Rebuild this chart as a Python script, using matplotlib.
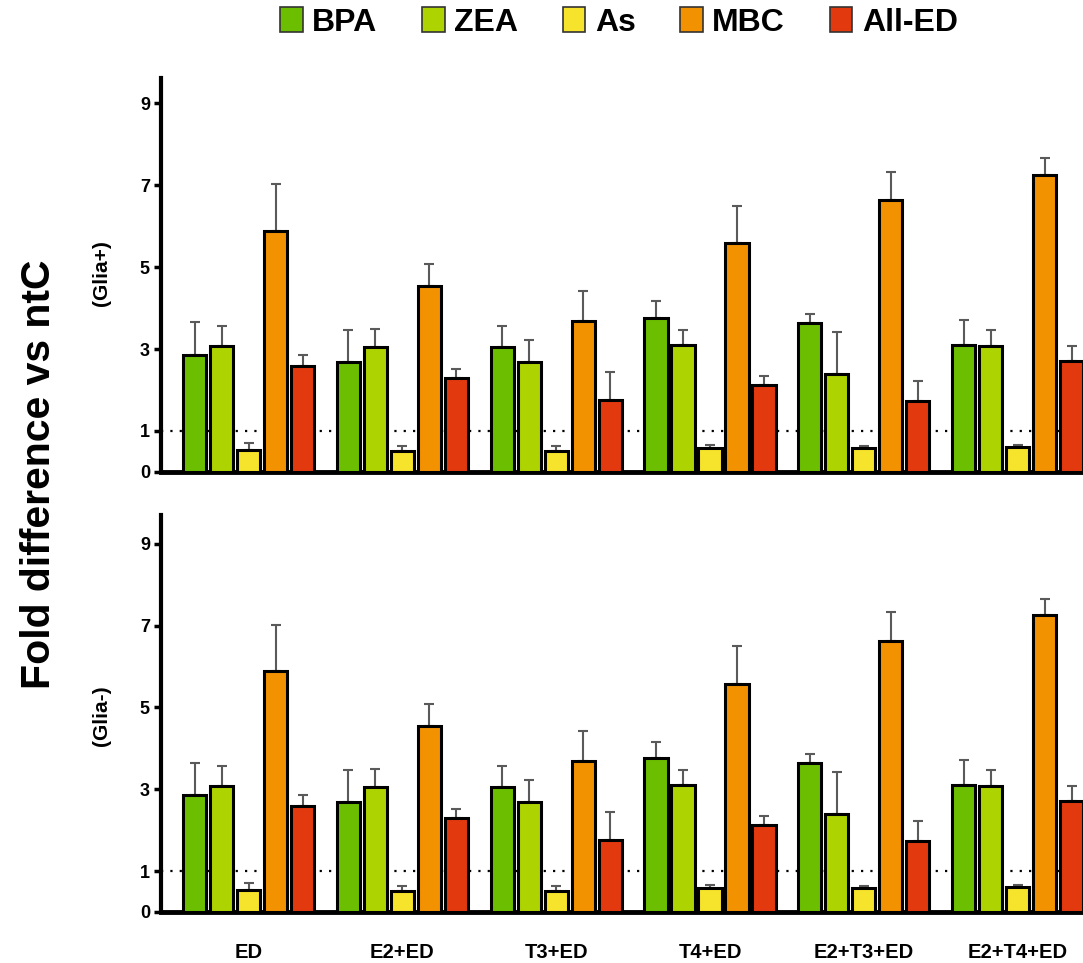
import matplotlib
matplotlib.use('Agg')
import matplotlib.pyplot as plt
import numpy as np
from matplotlib.patches import Patch

groups = ['ED', 'E2+ED', 'T3+ED', 'T4+ED', 'E2+T3+ED', 'E2+T4+ED']
series = ['BPA', 'ZEA', 'As', 'MBC', 'All-ED']
colors = ['#6cbf00', '#add300', '#f6e32b', '#f39200', '#e3390f']

# Glia+ panel: bar heights and upper error-bar ends
gp_bpa = [2.85, 2.68, 3.06, 3.76, 3.64, 3.11]
gp_zea = [3.07, 3.06, 2.68, 3.11, 2.40, 3.08]
gp_as = [0.54, 0.50, 0.52, 0.59, 0.58, 0.62]
gp_mbc = [5.89, 4.54, 3.69, 5.58, 6.63, 7.25]
gp_all = [2.59, 2.30, 1.76, 2.12, 1.74, 2.71]
gp_bpa_up = [3.65, 3.47, 3.57, 4.16, 3.86, 3.72]
gp_zea_up = [3.57, 3.49, 3.22, 3.46, 3.42, 3.47]
gp_as_up = [0.70, 0.63, 0.63, 0.66, 0.64, 0.67]
gp_mbc_up = [7.02, 5.08, 4.41, 6.50, 7.33, 7.65]
gp_all_up = [2.85, 2.52, 2.45, 2.34, 2.22, 3.07]

# Glia- panel
gm_bpa = [2.85, 2.68, 3.06, 3.76, 3.64, 3.11]
gm_zea = [3.07, 3.06, 2.68, 3.11, 2.40, 3.08]
gm_as = [0.54, 0.50, 0.52, 0.59, 0.58, 0.62]
gm_mbc = [5.89, 4.54, 3.69, 5.58, 6.63, 7.25]
gm_all = [2.59, 2.30, 1.76, 2.12, 1.74, 2.71]
gm_bpa_up = [3.65, 3.47, 3.57, 4.16, 3.86, 3.72]
gm_zea_up = [3.57, 3.49, 3.22, 3.46, 3.42, 3.47]
gm_as_up = [0.70, 0.63, 0.63, 0.66, 0.64, 0.67]
gm_mbc_up = [7.02, 5.08, 4.41, 6.50, 7.33, 7.65]
gm_all_up = [2.85, 2.52, 2.45, 2.34, 2.22, 3.07]

yticks = [0, 1, 3, 5, 7, 9]

SANS = ['Liberation Sans', 'DejaVu Sans']
plt.rcParams['font.family'] = SANS

fig = plt.figure(figsize=(10.83, 9.63), dpi=100)

def panel(ax, means, uppers, ymax, show_x):
    x = np.arange(len(groups))
    pitch = 0.1756
    width = 0.15
    for j, (m, u) in enumerate(zip(means, uppers)):
        pos = x + (j - 2) * pitch
        m = np.array(m); u = np.array(u)
        ax.bar(pos, m, width=width, color=colors[j], edgecolor='black',
               linewidth=2.2, zorder=3)
        ax.errorbar(pos, m, yerr=[np.zeros_like(m), u - m], fmt='none',
                    ecolor='#5a5a5a', elinewidth=1.5, capsize=3.5,
                    capthick=1.5, zorder=2)
    ax.axhline(1, color='black', lw=1.6, ls=(0, (1, 3.2)), zorder=1)
    ax.set_xlim(-0.569, 5.425)
    ax.set_ylim(0, ymax)
    ax.set_yticks(yticks)
    ax.set_yticklabels([str(t) for t in yticks], fontsize=13, fontweight='bold')
    ax.spines['top'].set_visible(False)
    ax.spines['right'].set_visible(False)
    ax.spines['left'].set_linewidth(3)
    ax.spines['bottom'].set_linewidth(3.5)
    ax.tick_params(axis='y', width=2.5, length=5, pad=3)
    if show_x:
        ax.set_xticks(x)
        ax.set_xticklabels(groups, fontsize=14.5, fontweight='bold')
        ax.tick_params(axis='x', length=0, pad=22)
    else:
        ax.set_xticks([])

ax1 = fig.add_axes([0.1487, 0.5099, 0.8513, 0.409])
ax2 = fig.add_axes([0.1487, 0.053, 0.8513, 0.4122])
panel(ax1, [gp_bpa, gp_zea, gp_as, gp_mbc, gp_all],
      [gp_bpa_up, gp_zea_up, gp_as_up, gp_mbc_up, gp_all_up], 9.61, False)
panel(ax2, [gm_bpa, gm_zea, gm_as, gm_mbc, gm_all],
      [gm_bpa_up, gm_zea_up, gm_as_up, gm_mbc_up, gm_all_up], 9.7, True)

fig.text(0.036, 1 - 474 / 963, 'Fold difference vs ntC', rotation=90,
         fontsize=29.5, fontweight='bold', ha='center', va='center')
fig.text(102 / 1083, 1 - 273 / 963, '(Glia+)', rotation=90, fontsize=15,
         fontweight='bold', ha='center', va='center')
fig.text(101 / 1083, 1 - 716 / 963, '(Glia-)', rotation=90, fontsize=15,
         fontweight='bold', ha='center', va='center')

handles = [Patch(facecolor=c, edgecolor='#333333', linewidth=1.2) for c in colors]
leg = fig.legend(handles, series, loc='center', bbox_to_anchor=(0.5716, 0.977),
                 ncol=5, frameon=False, handlelength=0.7, handleheight=0.85,
                 handletextpad=0.3, columnspacing=1.4,
                 prop={'weight': 'bold', 'size': 23})

fig.savefig('out.png', dpi=100)
